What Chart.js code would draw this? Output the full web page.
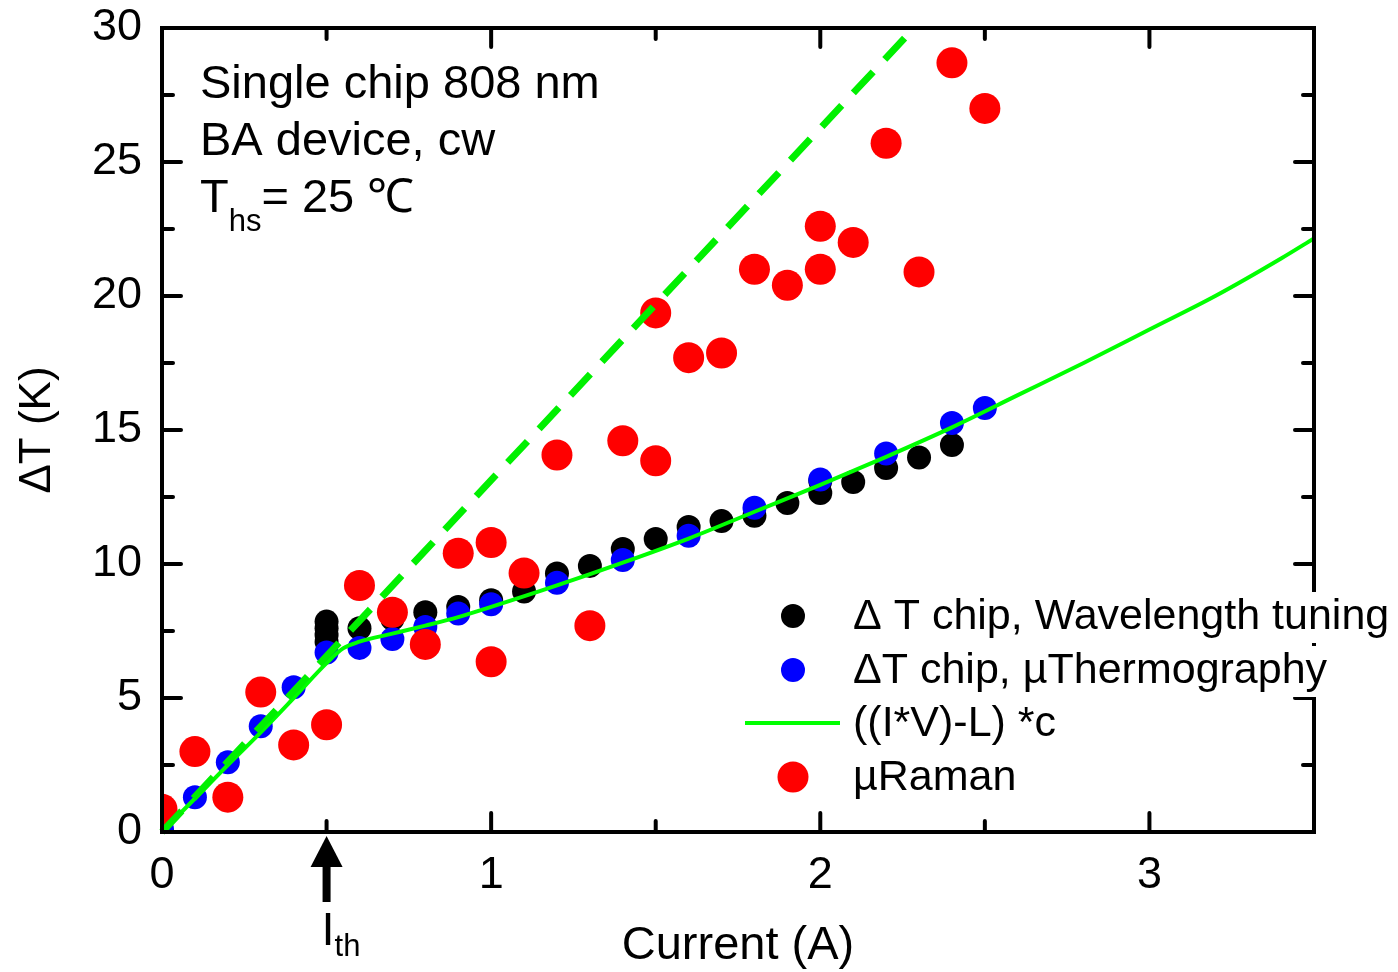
<!DOCTYPE html>
<html><head><meta charset="utf-8">
<script src="https://cdn.jsdelivr.net/npm/chart.js@4.4.1/dist/chart.umd.min.js"></script>
<style>html,body{margin:0;padding:0;background:#fff}#wrap{width:1398px;height:972px;position:relative}</style>
</head><body><div id="wrap"><canvas id="c" width="1398" height="972"></canvas></div>
<script>
// ---- data ----
const xTickValues = [0, 1, 2, 3];
const yTickValues = [0, 5, 10, 15, 20, 25, 30];
const xMinorValues = [0.5, 1.5, 2.5, 3.5];
const yMinorValues = [2.5, 7.5, 12.5, 17.5, 22.5, 27.5];

const currentWavelength = [0.5,0.5,0.5,0.5,0.6,0.7,0.8,0.9,1.0,1.1,1.2,1.3,1.4,1.5,1.6,1.7,1.8,1.9,2.0,2.0,2.1,2.2,2.3,2.4];
const dTWavelength      = [7.85,7.6,7.35,7.1,7.6,7.95,8.2,8.4,8.65,8.97,9.65,9.93,10.56,10.93,11.38,11.6,11.8,12.28,13.1,12.65,13.06,13.58,13.97,14.44];

const currentThermo = [0,0.1,0.2,0.3,0.4,0.5,0.6,0.7,0.8,0.9,1.0,1.2,1.4,1.6,1.8,2.0,2.2,2.4,2.5];
const dTThermo      = [0.1,1.3,2.6,3.95,5.4,6.7,6.87,7.2,7.65,8.15,8.5,9.3,10.15,11.05,12.1,13.15,14.12,15.26,15.82];

const currentFit = [0,0.1,0.2,0.3,0.4,0.5,0.55,0.6,0.7,0.8,0.9,1.0,1.2,1.4,1.6,1.8,2.0,2.2,2.4,2.6,2.8,3.0,3.2,3.4,3.5];
const dTFit      = [0,1.25,2.5,3.72,5.0,6.3,6.85,7.1,7.4,7.7,8.02,8.4,9.2,10.05,10.95,11.95,12.95,14.0,15.1,16.3,17.5,18.75,20.0,21.4,22.15];

const currentRaman = [0,0.1,0.2,0.3,0.4,0.5,0.6,0.7,0.8,0.9,1.0,1.0,1.1,1.2,1.3,1.4,1.5,1.5,1.6,1.7,1.8,1.9,2.0,2.0,2.1,2.2,2.3,2.4,2.5];
const dTRaman      = [0.85,3.0,1.3,5.22,3.25,4.0,9.2,8.2,7.0,10.4,10.8,6.35,9.66,14.07,7.7,14.6,13.85,19.37,17.7,17.87,21.0,20.4,22.6,21.0,22.0,25.7,20.9,28.7,27.0];

const currentGuide = [0, 2.285];
const dTGuide      = [0, 30];

const seriesLabels = ['\u0394 T chip, Wavelength tuning', '\u0394T chip, \u00b5Thermography', '((I*V)-L) *c', '\u00b5Raman'];
const xTitle = 'Current (A)';
const yTitle = '\u0394T (K)';
const infoLines = ['Single chip 808 nm', 'BA device, cw'];

// ---- chart ----
const FONT = '"Liberation Sans", Arial, Helvetica, sans-serif';
const pts = (xs, ys) => xs.map((x, i) => ({x: x, y: ys[i]}));

const framePlugin = {
  id: 'frame',
  afterDatasetsDraw(chart) {
    const {ctx, chartArea: a, scales: {x, y}} = chart;
    ctx.save();
    ctx.strokeStyle = '#000';
    ctx.lineWidth = 4;
    ctx.lineCap = 'round';
    const major = 19, minor = 11;
    const tick = (x1, y1, x2, y2) => { ctx.beginPath(); ctx.moveTo(x1, y1); ctx.lineTo(x2, y2); ctx.stroke(); };
    xTickValues.concat(xMinorValues).forEach(v => {
      const len = xTickValues.includes(v) ? major : minor;
      const px = x.getPixelForValue(v);
      tick(px, a.bottom, px, a.bottom - len);
      tick(px, a.top, px, a.top + len);
    });
    yTickValues.concat(yMinorValues).forEach(v => {
      const len = yTickValues.includes(v) ? major : minor;
      const py = y.getPixelForValue(v);
      tick(a.left, py, a.left + len, py);
      tick(a.right, py, a.right - len, py);
    });
    ctx.lineCap = 'square';
    ctx.strokeRect(a.left, a.top, a.right - a.left, a.bottom - a.top);
    ctx.restore();
  },
  afterDraw(chart) {
    const {ctx, scales: {x, y}} = chart;
    ctx.save();
    ctx.fillStyle = '#000';
    ctx.textBaseline = 'alphabetic';
    ctx.textAlign = 'left';
    // info text
    ctx.font = '47px ' + FONT;
    ctx.fillText(infoLines[0], 200, 98);
    ctx.fillText(infoLines[1], 200, 155);
    ctx.fillText('T', 200, 212);
    const tw = ctx.measureText('T').width;
    ctx.font = '31px ' + FONT;
    ctx.fillText('hs', 200 + tw, 231);
    const hw = ctx.measureText('hs').width;
    ctx.font = '47px ' + FONT;
    ctx.fillText('= 25 \u2103', 200 + tw + hw, 212);

    // I_th arrow at 0.5 A
    const ax = x.getPixelForValue(0.5), ay = y.getPixelForValue(0);
    ctx.beginPath();
    ctx.moveTo(ax, ay + 4);
    ctx.lineTo(ax - 16, ay + 35);
    ctx.lineTo(ax + 16, ay + 35);
    ctx.closePath();
    ctx.fill();
    ctx.fillRect(ax - 4, ay + 33, 8, 37);
    ctx.font = '47px ' + FONT;
    ctx.fillText('I', ax - 5, 945);
    ctx.font = '31px ' + FONT;
    ctx.fillText('th', ax + 8, 956);

    // legend
    const ds = chart.data.datasets;
    const rows = [616, 670, 723, 777];
    const lx = 793, tx = 853;
    ctx.font = '43px ' + FONT;
    ctx.textBaseline = 'middle';
    [0, 1, 2, 3].forEach((k, i) => {
      const d = ds[k];
      const cy = rows[i];
      const w = ctx.measureText(d.label).width;
      ctx.fillStyle = '#fff';
      ctx.fillRect(tx - 2, cy - 24, w + 4, 51);
      if (d.showLine) {
        ctx.strokeStyle = d.borderColor;
        ctx.lineWidth = d.borderWidth;
        ctx.beginPath(); ctx.moveTo(745, cy); ctx.lineTo(840, cy); ctx.stroke();
      } else {
        ctx.fillStyle = d.backgroundColor;
        ctx.beginPath(); ctx.arc(lx, cy, d.pointRadius, 0, Math.PI * 2); ctx.fill();
      }
      ctx.fillStyle = '#000';
      ctx.fillText(d.label, tx, cy + 1);
    });
    ctx.restore();
  }
};

new Chart(document.getElementById('c'), {
  type: 'scatter',
  data: {
    datasets: [
      { label: seriesLabels[0], data: pts(currentWavelength, dTWavelength), backgroundColor: '#000000', borderColor: '#000000',
        pointRadius: 12, pointBorderWidth: 0, order: 4, clip: 0 },
      { label: seriesLabels[1], data: pts(currentThermo, dTThermo), backgroundColor: '#0000ff', borderColor: '#0000ff',
        pointRadius: 12, pointBorderWidth: 0, order: 3, clip: 0 },
      { label: seriesLabels[2], data: pts(currentFit, dTFit), showLine: true, borderColor: '#00ff00', backgroundColor: '#00ff00',
        borderWidth: 4, pointRadius: 0, cubicInterpolationMode: 'monotone', order: 1, clip: 0 },
      { label: seriesLabels[3], data: pts(currentRaman, dTRaman), backgroundColor: '#ff0000', borderColor: '#ff0000',
        pointRadius: 15.5, pointBorderWidth: 0, order: 2, clip: 0 },
      { label: 'guide', data: pts(currentGuide, dTGuide), showLine: true, borderColor: '#00f000', borderWidth: 7,
        borderDash: [29, 17], pointRadius: 0, order: 0, clip: 3 }
    ]
  },
  options: {
    responsive: false,
    animation: false,
    devicePixelRatio: 1,
    layout: { padding: { left: 0, top: 28, right: 84, bottom: 0 } },
    plugins: { legend: { display: false }, tooltip: { enabled: false } },
    scales: {
      x: {
        type: 'linear', position: 'bottom', min: 0, max: 3.5,
        afterBuildTicks: s => { s.ticks = xTickValues.map(v => ({value: v})); },
        afterFit: s => { s.height = 140; s.paddingLeft = 0; s.paddingRight = 0; },
        grid: { display: false, drawTicks: false },
        border: { display: false },
        ticks: { color: '#000', font: { family: FONT, size: 45, lineHeight: 1.2 }, padding: 17, maxRotation: 0, autoSkip: false },
        title: { display: true, text: xTitle, color: '#000', font: { family: FONT, size: 47, lineHeight: 1 }, padding: { top: 0, bottom: 2 } }
      },
      y: {
        type: 'linear', position: 'left', min: 0, max: 30,
        afterBuildTicks: s => { s.ticks = yTickValues.map(v => ({value: v})); },
        afterFit: s => { s.width = 162; s.paddingTop = 0; s.paddingBottom = 0; },
        grid: { display: false, drawTicks: false },
        border: { display: false },
        ticks: { color: '#000', font: { family: FONT, size: 45, lineHeight: 1.2 }, padding: 20, autoSkip: false },
        title: { display: true, text: yTitle, color: '#000', font: { family: FONT, size: 44, lineHeight: 1 }, padding: { top: 16, bottom: 0 } }
      }
    }
  },
  plugins: [framePlugin]
});
</script>
</body></html>
